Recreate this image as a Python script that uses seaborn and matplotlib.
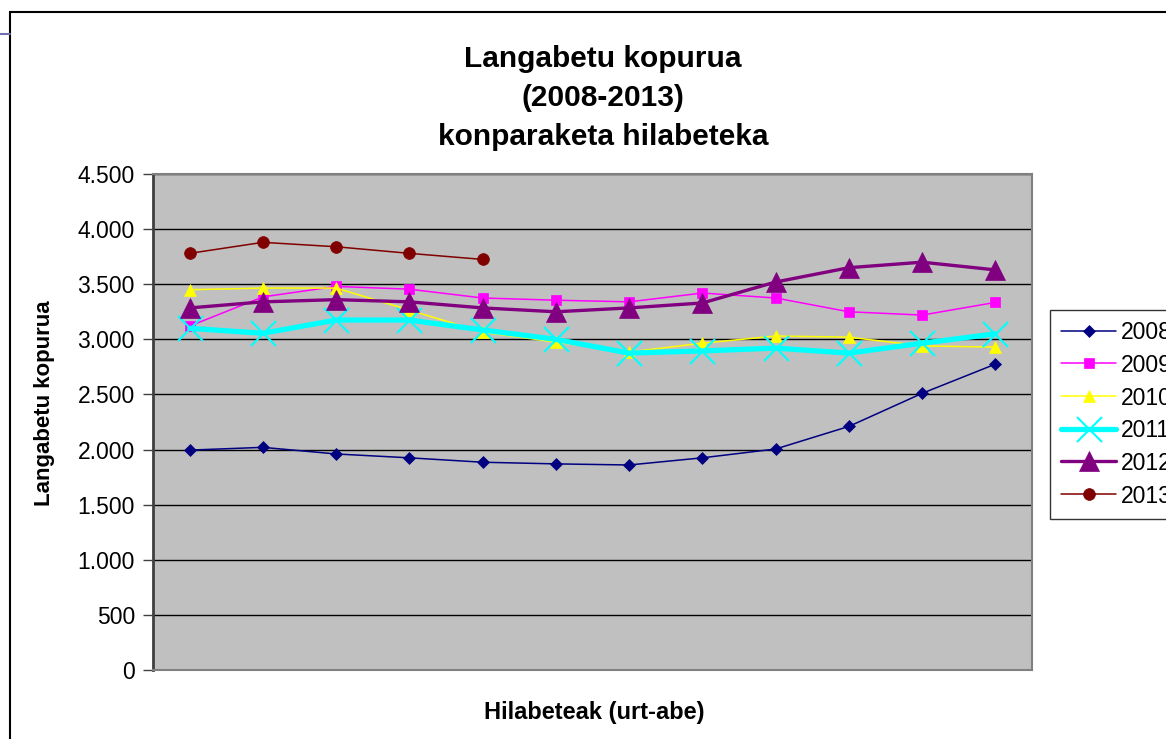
import numpy as np
import matplotlib
matplotlib.use("Agg")
import matplotlib.pyplot as plt
import seaborn as sns
from matplotlib.patches import Rectangle
from matplotlib.lines import Line2D
from matplotlib.ticker import FuncFormatter

# ---- data ----
months = ["Urt", "Ots", "Mar", "Api", "Mai", "Eka", "Uzt", "Abu", "Ira", "Urr", "Aza", "Abe"]
years = ["2008", "2009", "2010", "2011", "2012", "2013"]
v2008 = [1995, 2020, 1960, 1925, 1885, 1870, 1860, 1925, 2005, 2210, 2510, 2775]
v2009 = [3120, 3385, 3480, 3455, 3375, 3355, 3340, 3420, 3375, 3250, 3220, 3335]
v2010 = [3450, 3465, 3465, 3265, 3065, 2975, 2885, 2965, 3030, 3020, 2940, 2930]
v2011 = [3100, 3055, 3175, 3175, 3085, 3000, 2875, 2895, 2920, 2875, 2965, 3050]
v2012 = [3285, 3340, 3360, 3340, 3285, 3250, 3285, 3330, 3520, 3650, 3700, 3630]
v2013 = [3780, 3880, 3840, 3780, 3725]
yticks = [0, 500, 1000, 1500, 2000, 2500, 3000, 3500, 4000, 4500]

title = "Langabetu kopurua\n(2008-2013)\nkonparaketa hilabeteka"
ylabel = "Langabetu kopurua"
xlabel = "Hilabeteak (urt-abe)"

series = [v2008, v2009, v2010, v2011, v2012, v2013]
styles = [
    dict(color="#000080", marker="D", markersize=6.5, linewidth=1.1, markeredgewidth=0.5),
    dict(color="#FF00FF", marker="s", markersize=7, linewidth=1.1, markeredgewidth=0.5),
    dict(color="#FFFF00", marker="^", markersize=9, linewidth=1.1, markeredgewidth=0.5),
    dict(color="#00FFFF", marker="x", markersize=18, linewidth=3.8, markeredgewidth=1.5),
    dict(color="#800080", marker="^", markersize=14, linewidth=2.4, markeredgewidth=0.5),
    dict(color="#800000", marker="o", markersize=8.5, linewidth=1.1, markeredgewidth=0.5),
]

sns.set_style("white")
plt.rcParams["font.family"] = ["Liberation Sans", "DejaVu Sans"]
plt.rcParams["text.color"] = "black"
plt.rcParams["axes.labelcolor"] = "black"
plt.rcParams["ytick.color"] = "black"
plt.rcParams["xtick.color"] = "black"

W, H = 1166, 739
fig = plt.figure(figsize=(W / 100, H / 100), dpi=100)
ax = fig.add_axes([153 / W, 1 - 670 / H, (1032 - 153) / W, (670 - 174) / H])
ax.set_facecolor("#C0C0C0")

for yr, vals, st in zip(years, series, styles):
    sns.lineplot(x=np.arange(len(vals)), y=vals, ax=ax, label=yr,
                 markeredgecolor=st["color"], **st)

ax.set_xlim(-0.5, 11.5)
ax.set_ylim(0, 4500)
ax.set_xticks([])
ax.set_yticks(yticks)
ax.yaxis.set_major_formatter(FuncFormatter(lambda v, p: f"{int(v):,}".replace(",", ".")))
ax.tick_params(axis="y", direction="out", length=7, width=1, color="#404040",
               labelsize=16.5, labelcolor="black", pad=6, left=True)
ax.grid(axis="y", color="black", linewidth=1)
ax.set_axisbelow(True)
for side in ["top", "right", "bottom"]:
    ax.spines[side].set_color("#808080")
    ax.spines[side].set_linewidth(1.5)
ax.spines["left"].set_color("#404040")
ax.spines["left"].set_linewidth(2)
ax.set_xlabel("")
ax.set_ylabel("")

fig.text(603 / W, 1 - 98 / H, title, ha="center", va="center", fontsize=21.5,
         fontweight="bold", linespacing=1.5, color="black")
fig.text(45 / W, 1 - 403 / H, ylabel, ha="center", va="center", rotation=90,
         fontsize=16, fontweight="bold", color="black")
fig.text(594 / W, 1 - 713 / H, xlabel, ha="center", va="center",
         fontsize=17, fontweight="bold", color="black")

leg = ax.legend(loc="upper left", bbox_to_anchor=(1050 / W, 1 - 310 / H),
                bbox_transform=fig.transFigure, frameon=True, fancybox=False,
                shadow=False, fontsize=16.5, handlelength=2.4, handletextpad=0.2,
                borderpad=0.5, labelspacing=0.42, borderaxespad=0,
                handleheight=0.9)
leg.get_frame().set_edgecolor("black")
leg.get_frame().set_linewidth(1)
for t in leg.get_texts():
    t.set_color("black")

fig.add_artist(Rectangle((10 / W, -0.2), 1.5, 1 - 12 / H + 0.2, transform=fig.transFigure,
                         fill=False, edgecolor="black", linewidth=1.5, clip_on=False))
fig.add_artist(Line2D([0, 10 / W], [1 - 34 / H, 1 - 34 / H], transform=fig.transFigure,
                      color="#7070B0", linewidth=1.5))

fig.savefig("out.png", dpi=100, facecolor="white")
